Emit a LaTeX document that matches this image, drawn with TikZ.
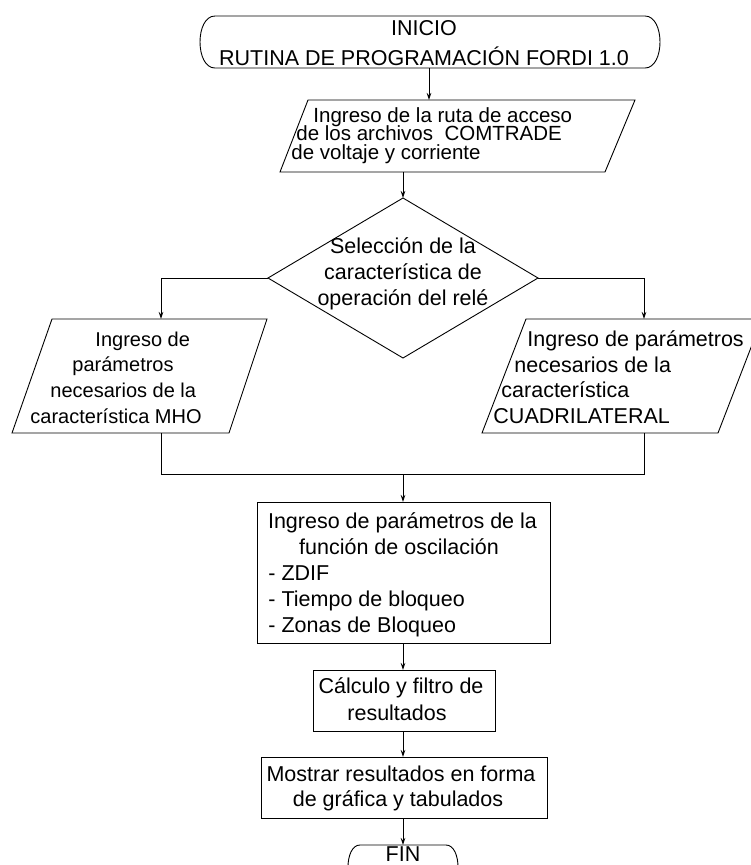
\documentclass[tikz,border=0pt]{standalone}
\usepackage{fontspec}
\setmainfont{Liberation Sans}
\usetikzlibrary{arrows.meta}
\begin{document}
\begin{tikzpicture}[x=1pt,y=-1pt,line width=0.9pt,
  arr/.style={-{Stealth[length=7pt,width=4.5pt]}},
  txt/.style={inner sep=0pt,font=\fontsize{21.5}{26}\selectfont},
  txtsm/.style={inner sep=0pt,font=\fontsize{20.5}{19}\selectfont},
  txtmd/.style={inner sep=0pt,font=\fontsize{20}{24}\selectfont},
  shp/.style={draw=black,line width=0.9pt}]
\useasboundingbox (0,0) rectangle (751,865);
\clip (0,0) rectangle (751,865);

% ---------- INICIO terminator
\draw[shp] (215,16) -- (645,16) .. controls (665,16) and (665,68) .. (645,68)
  -- (215,68) .. controls (195,68) and (195,16) .. cycle;
\node[txt,anchor=base] (tA) at (424,35) {INICIO};
\node[txt,anchor=base] (tB) at (424,65) {RUTINA DE PROGRAMACIÓN FORDI 1.0};
\coordinate (tS) at (429,68);

% ---------- input parallelogram 1
\draw[shp] (308,100) -- (635,100) -- (605,172) -- (280,172) -- cycle;
\coordinate (p1N) at (429,100);
\coordinate (p1S) at (403,172);
\node[txtsm,anchor=base west] (p1a) at (313,122) {Ingreso de la ruta de acceso};
\node[txtsm,anchor=base west] (p1b) at (296,140.5) {de los archivos\ \ COMTRADE};
\node[txtsm,anchor=base west] (p1c) at (291,159) {de voltaje y corriente};

% ---------- decision diamond
\coordinate (dN) at (403,198);
\coordinate (dE) at (538,278);
\coordinate (dS) at (403,358);
\coordinate (dW) at (268,278);
\draw[shp] (dN) -- (dE) -- (dS) -- (dW) -- cycle;
\node[txt,anchor=base] (d1) at (403,253) {Selección de la};
\node[txt,anchor=base] (d2) at (403,279) {característica de};
\node[txt,anchor=base] (d3) at (403,305) {operación del relé};

% ---------- left parallelogram (MHO)
\draw[shp] (52,319) -- (267,319) -- (229,433) -- (12,433) -- cycle;
\coordinate (lN) at (161,319);
\coordinate (lS) at (161,433);
\node[txtmd,anchor=base west] (l1) at (95,346) {Ingreso de};
\node[txtmd,anchor=base west] (l2) at (72,371.5) {parámetros};
\node[txtmd,anchor=base west] (l3) at (50,397) {necesarios de la};
\node[txtmd,anchor=base west] (l4) at (30,423) {característica MHO};

% ---------- right parallelogram (CUADRILATERAL)
\draw[shp] (526,319) -- (762,319) -- (718,433) -- (482,433) -- cycle;
\coordinate (rN) at (644,319);
\coordinate (rS) at (644,433);
\node[txt,anchor=base west] (r1) at (527,346) {Ingreso de parámetros};
\node[txt,anchor=base west] (r2) at (514,372) {necesarios de la};
\node[txt,anchor=base west] (r3) at (501,397.5) {característica};
\node[txt,anchor=base west] (r4) at (493,423) {CUADRILATERAL};

% ---------- box 1
\draw[shp] (257,502) rectangle (550,643);
\coordinate (b1N) at (403,502);
\coordinate (b1S) at (403,643);
\node[txt,anchor=base] (b1a) at (402.5,528) {Ingreso de parámetros de la};
\node[txt,anchor=base] (b1b) at (399,554) {función de oscilación};
\node[txt,anchor=base west] (b1c) at (268,580) {- ZDIF};
\node[txt,anchor=base west] (b1d) at (268,606) {- Tiempo de bloqueo};
\node[txt,anchor=base west] (b1e) at (268,632) {- Zonas de Bloqueo};

% ---------- box 2
\draw[shp] (313,670) rectangle (495,731);
\coordinate (b2N) at (403,670);
\coordinate (b2S) at (403,731);
\node[txt,anchor=base] (b2a) at (401,693) {Cálculo y filtro de};
\node[txt,anchor=base] (b2b) at (397,720) {resultados};

% ---------- box 3
\draw[shp] (261,757) rectangle (547,818);
\coordinate (b3N) at (403,757);
\coordinate (b3S) at (403,818);
\node[txt,anchor=base] (b3a) at (401,781) {Mostrar resultados en forma};
\node[txt,anchor=base] (b3b) at (398,806) {de gráfica y tabulados};

% ---------- FIN terminator
\draw[shp] (360,845) -- (446,845) .. controls (462,845) and (462,889) .. (446,889)
  -- (360,889) .. controls (344,889) and (344,845) .. cycle;
\coordinate (fN) at (403,845);
\node[txt,anchor=base] (fin) at (403,861) {FIN};

% ---------- connectors
\coordinate (jL) at (161,474);
\coordinate (jM) at (403,474);
\coordinate (jR) at (644,474);
\draw[arr] (tS) -- (p1N);
\draw[arr] (p1S) -- (dN);
\draw[arr] (dW) -| (lN);
\draw[arr] (dE) -| (rN);
\draw (lS) -- (jL) -- (jR) -- (rS);
\draw[arr] (jM) -- (b1N);
\draw[arr] (b1S) -- (b2N);
\draw[arr] (b2S) -- (b3N);
\draw[arr] (b3S) -- (fN);
\end{tikzpicture}
\end{document}
